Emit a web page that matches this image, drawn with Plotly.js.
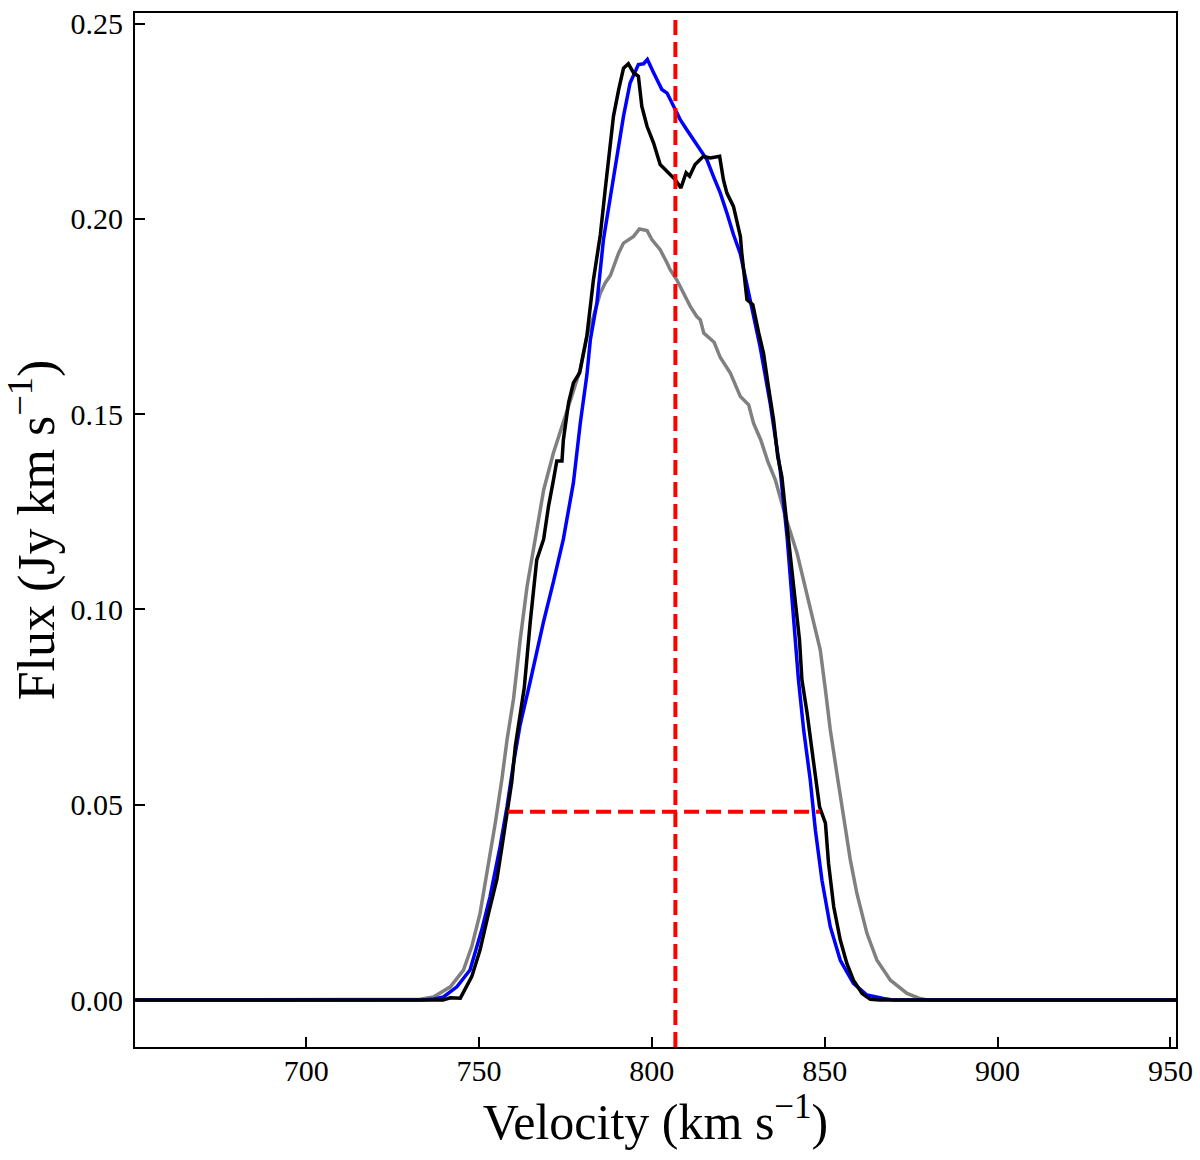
<!DOCTYPE html>
<html>
<head>
<meta charset="utf-8">
<script src="https://cdn.plot.ly/plotly-3.0.1.min.js"></script>
<style>
  html, body { margin: 0; padding: 0; background: #fff; }
  #chart { width: 1200px; height: 1160px; }
</style>
</head>
<body>
<div id="chart"></div>
<script>
// observed spectrum (black)
const obsVel = [650, 739.6, 741.7, 744.6, 747.9, 750.3, 752.7, 755.2, 756.6, 758.1, 759.5, 760.5,
  761.9, 763.1, 764.8, 766.7, 768.7, 770.1, 771.5, 772.5, 774.0, 774.4, 775.9, 777.3, 779.1,
  780.2, 781.2, 783.1, 785.1, 786.5, 788.9, 790.4, 791.8, 793.2, 794.7, 796.1, 797.1, 798.6,
  800.5, 802.4, 804.4, 806.8, 808.4, 809.9, 810.9, 812.5, 814.9, 816.9, 819.6, 820.7, 821.7,
  823.6, 825.6, 826.0, 827.5, 829.2, 830.9, 832.3, 833.7, 835.2, 836.4, 837.6, 838.9, 840.0,
  841.5, 842.7, 843.4, 844.9, 846.8, 848.5, 850.2, 851.1, 852.6, 854.5, 856.4, 858.3, 860.8,
  863.2, 866, 955];
const obsFlux = [0, 0, 0.0006, 0.0005, 0.006, 0.0128, 0.022, 0.031, 0.039, 0.0479, 0.056, 0.065,
  0.0735, 0.080, 0.0966, 0.1127, 0.118, 0.1264, 0.133, 0.138, 0.138, 0.1434, 0.1529, 0.158, 0.1606,
  0.165, 0.170, 0.1844, 0.196, 0.2075, 0.2263, 0.2331, 0.2386, 0.2397, 0.2374, 0.2365, 0.2288, 0.2237,
  0.2194, 0.2139, 0.2122, 0.210, 0.2079, 0.2118, 0.2109, 0.2139, 0.216, 0.2156, 0.216, 0.210, 0.2066,
  0.2032, 0.1955, 0.1913, 0.1793, 0.178, 0.1708, 0.1656, 0.1571, 0.1486, 0.1392, 0.134, 0.123, 0.1144,
  0.1025, 0.0922, 0.082, 0.0735, 0.0607, 0.0495, 0.0453, 0.035, 0.0239, 0.0154, 0.0094, 0.0051, 0.0017,
  0.0002, 0, 0];

// model profile (blue)
const modelVel = [650, 733, 737, 739.7, 743.6, 747.4, 750.8, 753.2, 756.1, 758.1, 760.0, 761.9,
  764.8, 768.7, 771.5, 774.4, 775.4, 777.3, 779.3, 781.2, 782.2, 784.1, 786.0, 788.0, 789.9,
  791.8, 793.7, 796.1, 797.6, 798.7, 800.5, 802.9, 804.4, 806.8, 808.2, 810.1, 812.1, 814.0,
  815.9, 817.8, 819.8, 821.7, 823.6, 825.6, 828.5, 831.3, 834.2, 837.1, 839.1, 841.0, 842.4,
  843.9, 845.8, 847.3, 849.2, 851.6, 854.5, 858.3, 862.2, 867, 870, 955];
const modelFlux = [0, 0, 0.0003, 0.0008, 0.0034, 0.0077, 0.018, 0.0265, 0.0393, 0.0495, 0.0607, 0.0705,
  0.0815, 0.097, 0.107, 0.118, 0.123, 0.1324, 0.1477, 0.160, 0.169, 0.1785, 0.1947, 0.2058, 0.216,
  0.2263, 0.2348, 0.2395, 0.2397, 0.2408, 0.2374, 0.2331, 0.2322, 0.228, 0.2254, 0.2228, 0.2203, 0.2177,
  0.2152, 0.2109, 0.2066, 0.2015, 0.196, 0.191, 0.179, 0.1673, 0.1529, 0.1358, 0.1187, 0.0973, 0.082,
  0.0692, 0.0564, 0.0435, 0.0307, 0.0188, 0.0102, 0.0043, 0.0013, 0.0004, 0, 0];

// comparison profile (gray)
const compVel = [650, 730, 733, 736.8, 741.7, 745.5, 747.9, 750.3, 752.7, 754.7, 756.6, 758.1,
  760.0, 761.9, 763.9, 766.3, 768.7, 771.5, 774.4, 776.4, 779.3, 781.2, 783.1, 785.1, 786.5,
  788.0, 790.4, 791.8, 794.7, 796.4, 798.6, 800.0, 802.4, 804.4, 805.3, 807.2, 809.2, 811.1,
  813.0, 814.0, 815.0, 818.0, 819.8, 822.7, 825.6, 828.0, 829.4, 831.5, 833.5, 835.7, 837.6,
  839.1, 842.0, 844.6, 847.0, 848.7, 850.2, 851.6, 853.5, 855.5, 857.4, 859.3, 862.2, 865.1,
  869, 873.8, 877.6, 880, 955];
const compFlux = [0, 0, 0.0002, 0.0008, 0.0034, 0.0077, 0.0137, 0.0222, 0.0342, 0.0453, 0.0564, 0.0666,
  0.0772, 0.0922, 0.1059, 0.118, 0.1306, 0.140, 0.148, 0.153, 0.1614, 0.170, 0.175, 0.181, 0.1836,
  0.1855, 0.1913, 0.1938, 0.1955, 0.1974, 0.197, 0.1947, 0.1921, 0.1887, 0.187, 0.1844, 0.181, 0.1776,
  0.175, 0.1742, 0.1708, 0.1684, 0.1645, 0.1605, 0.1545, 0.1524, 0.1477, 0.1434, 0.138, 0.1332, 0.1272,
  0.1225, 0.1144, 0.105, 0.096, 0.0897, 0.0794, 0.0692, 0.0581, 0.0461, 0.0359, 0.0273, 0.0171, 0.0102,
  0.0051, 0.0017, 0.0004, 0, 0];

// systemic velocity and W50 width at half level
const sysVel = 806.8;
const w50Edges = [758.4, 848.7];
const halfLevel = 0.0482;

const xRange = [650.5, 951.6];
const yRange = [-0.012, 0.2527];
const xTicks = [700, 750, 800, 850, 900, 950];
const yTicks = [0, 0.05, 0.10, 0.15, 0.20, 0.25];

const serif = 'Liberation Serif, Times New Roman, serif';
const redDash = { color: '#ff0000', width: 4, dash: '15px,7px' };

const traces = [
  { x: compVel, y: compFlux, mode: 'lines', line: { color: '#808080', width: 3.5 } },
  { x: modelVel, y: modelFlux, mode: 'lines', line: { color: '#0000ff', width: 3.5 } },
  { x: obsVel, y: obsFlux, mode: 'lines', line: { color: '#000000', width: 3.5 } },
  { x: [sysVel, sysVel], y: yRange, mode: 'lines', line: redDash },
  { x: w50Edges, y: [halfLevel, halfLevel], mode: 'lines', line: redDash }
];

const axisCommon = {
  showgrid: false,
  zeroline: false,
  showline: true,
  linecolor: '#000',
  linewidth: 2,
  mirror: true,
  ticks: 'inside',
  ticklen: 10,
  tickwidth: 2,
  tickcolor: '#000',
  tickfont: { family: serif, size: 30, color: '#000' }
};

const layout = {
  width: 1200,
  height: 1160,
  margin: { l: 135, r: 24, t: 13, b: 113 },
  paper_bgcolor: '#fff',
  plot_bgcolor: '#fff',
  showlegend: false,
  xaxis: Object.assign({}, axisCommon, {
    range: xRange,
    tickvals: xTicks,
    ticktext: xTicks.map(v => String(v)),
    ticklabelstandoff: -4,
    title: { text: 'Velocity (km s<sup>−1</sup>)', font: { family: serif, size: 50, color: '#000' }, standoff: 14 }
  }),
  yaxis: Object.assign({}, axisCommon, {
    range: yRange,
    tickvals: yTicks,
    ticktext: yTicks.map(v => v.toFixed(2)),
    ticklabelstandoff: 4,
    title: { text: 'Flux (Jy km s<sup>−1</sup>)', font: { family: serif, size: 52, color: '#000' }, standoff: 10 }
  })
};

Plotly.newPlot('chart', traces, layout, { staticPlot: true });
</script>
</body>
</html>
